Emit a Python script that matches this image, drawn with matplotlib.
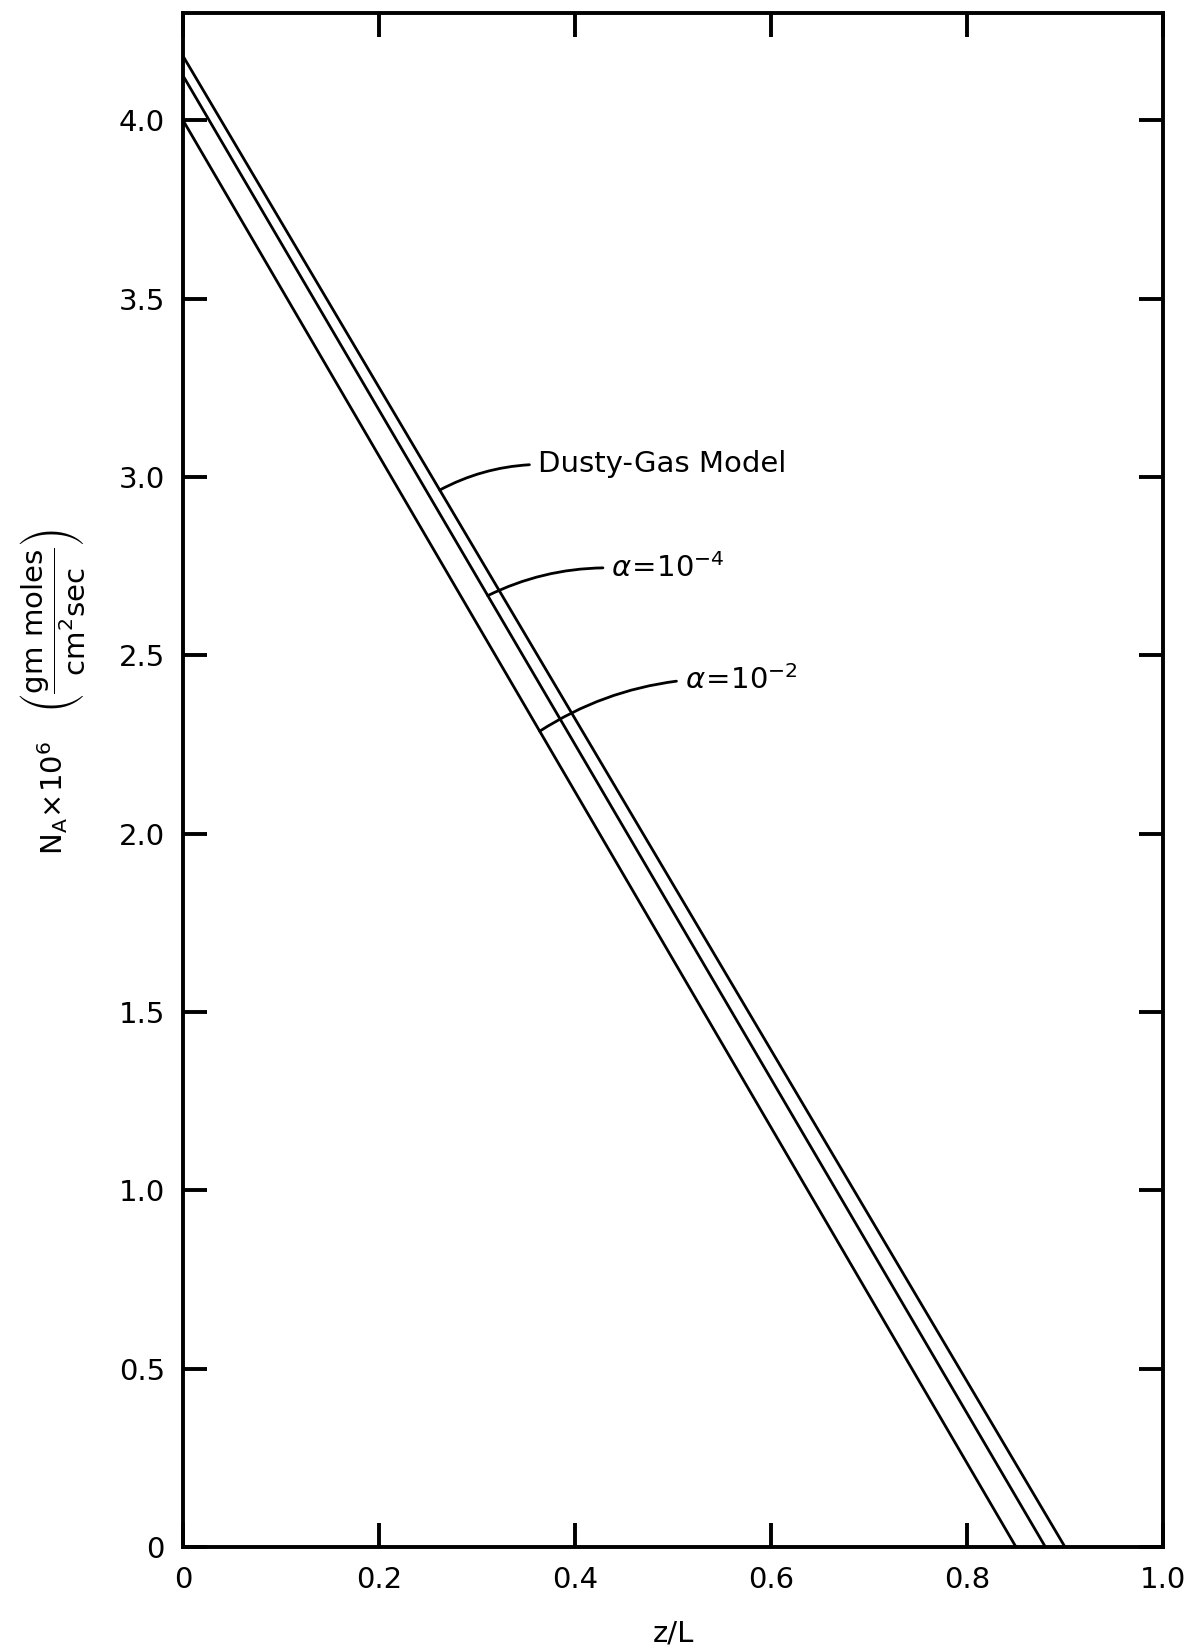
import matplotlib
matplotlib.use("Agg")
import matplotlib.pyplot as plt

plt.rcParams['font.family'] = ['DejaVu Sans']
plt.rcParams['mathtext.fontset'] = 'dejavusans'

# Molar flux profiles along the pore: each curve is a straight line from the
# inlet value at z/L = 0 down to zero flux.
series_names = ["Dusty-Gas Model", "alpha=1e-4", "alpha=1e-2"]
z_start = [0.0, 0.0, 0.0]
z_end = [0.90, 0.88, 0.85]
flux_start = [4.18, 4.125, 4.0]
flux_end = [0.0, 0.0, 0.0]

x_ticks = [0, 0.2, 0.4, 0.6, 0.8, 1.0]
x_tick_labels = ["0", "0.2", "0.4", "0.6", "0.8", "1.0"]
y_ticks = [0, 0.5, 1.0, 1.5, 2.0, 2.5, 3.0, 3.5, 4.0]
y_tick_labels = ["0", "0.5", "1.0", "1.5", "2.0", "2.5", "3.0", "3.5", "4.0"]

# Label text and the point on each curve its leader touches
label_texts = ["Dusty-Gas Model", r"$\alpha\!=\!10^{-4}$", r"$\alpha\!=\!10^{-2}$"]
label_anchor_z = [0.262, 0.311, 0.364]
label_text_pos = [(0.362, 3.035), (0.437, 2.745), (0.512, 2.43)]

fig = plt.figure(figsize=(11.96, 16.51), dpi=100)
ax = fig.add_axes([0.153, 0.063, 0.8194, 0.929])

for zs, ze, fs, fe in zip(z_start, z_end, flux_start, flux_end):
    ax.plot([zs, ze], [fs, fe], color="black", lw=2.0, solid_capstyle="butt")

for txt, za, (tx, ty), zs, ze, fs, fe in zip(label_texts, label_anchor_z, label_text_pos,
                                            z_start, z_end, flux_start, flux_end):
    ya = fs + (fe - fs) * (za - zs) / (ze - zs)
    ax.annotate(txt, xy=(za, ya), xytext=(tx, ty), ha="left", va="center",
                fontsize=21,
                arrowprops=dict(arrowstyle="-", color="black", lw=2.0,
                                connectionstyle="arc3,rad=0.12",
                                relpos=(0.0, 0.5), shrinkA=4, shrinkB=0))

ax.set_xlim(0, 1.0)
ax.set_ylim(0, 4.30)
ax.set_xticks(x_ticks)
ax.set_xticklabels(x_tick_labels)
ax.set_yticks(y_ticks)
ax.set_yticklabels(y_tick_labels)
ax.tick_params(axis="both", direction="in", length=17, width=2.8, labelsize=21,
               top=True, right=True)
ax.tick_params(axis="x", pad=14)
ax.tick_params(axis="y", pad=13)
for sp in ax.spines.values():
    sp.set_linewidth(2.8)

ax.set_xlabel("z/L", fontsize=21)
ax.xaxis.set_label_coords(0.5, -0.047)
ax.set_ylabel(r"$\mathrm{N_A}\!\times\!\mathrm{10^6}\quad\left(\dfrac{\mathrm{gm\ moles}}{\mathrm{cm^2 sec}}\right)$",
              fontsize=21)
ax.yaxis.set_label_coords(-0.098, 0.557)

fig.savefig("out.png", dpi=100)
